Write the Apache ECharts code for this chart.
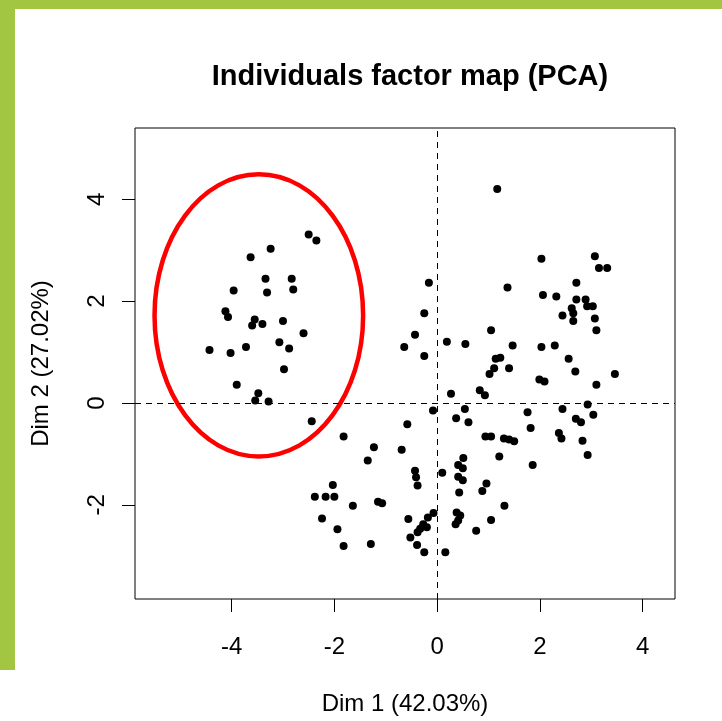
<!DOCTYPE html>
<html>
<head>
<meta charset="utf-8">
<script src="https://cdn.jsdelivr.net/npm/echarts@6.0.0/dist/echarts.min.js"></script>
<style>
  html, body { margin: 0; padding: 0; background: #fff; }
  #main { width: 722px; height: 721px; }
</style>
</head>
<body>
<div id="main"></div>
<script>
// individuals, [Dim 1, Dim 2]
const groupLeft = [
  [-2.50, 3.31], [-2.35, 3.19], [-3.24, 3.03], [-3.63, 2.86], [-3.34, 2.44], [-2.83, 2.44],
  [-3.96, 2.21], [-3.31, 2.17], [-2.80, 2.23], [-4.12, 1.80], [-4.07, 1.69], [-3.55, 1.64],
  [-3.60, 1.52], [-3.40, 1.55], [-3.00, 1.61], [-2.60, 1.37], [-3.07, 1.19], [-2.88, 1.07],
  [-4.43, 1.04], [-4.02, 0.98], [-3.72, 1.10], [-2.98, 0.66], [-3.90, 0.36], [-3.48, 0.19],
  [-3.54, 0.05], [-3.28, 0.03]
]
const groupBottom = [
  [-2.44, -0.36], [-1.82, -0.66], [-1.23, -0.87], [-1.35, -1.13], [-0.69, -0.92], [-0.58, -0.42],
  [-2.03, -1.61], [-2.38, -1.84], [-2.17, -1.84], [-2.00, -1.84], [-1.64, -2.02], [-1.15, -1.94],
  [-1.07, -1.97], [-2.24, -2.27], [-1.94, -2.48], [-1.82, -2.81], [-1.29, -2.77], [-0.43, -1.33],
  [-0.41, -1.46], [-0.38, -1.62],
  [-0.56, -2.28], [-0.07, -2.16], [-0.18, -2.25], [-0.27, -2.38], [-0.20, -2.44], [-0.33, -2.47],
  [-0.38, -2.54], [-0.52, -2.64], [-0.39, -2.79], [-0.25, -2.93], [0.16, -2.93],
  [0.38, -2.15], [0.45, -2.21], [0.41, -2.31], [0.36, -2.38], [0.76, -2.51], [1.05, -2.30],
  [1.31, -2.02], [0.43, -1.76], [0.96, -1.58], [0.88, -1.73], [0.41, -1.45], [0.50, -1.52],
  [0.41, -1.22], [0.50, -1.28], [0.51, -1.08], [0.10, -1.37], [1.21, -1.05], [1.86, -1.22],
  [0.94, -0.66], [1.05, -0.66], [1.30, -0.70], [1.40, -0.72], [1.50, -0.75]
]
const groupMiddle = [
  [-0.08, -0.15], [0.27, 0.18], [0.83, 0.25], [0.93, 0.15], [0.54, -0.12], [0.37, -0.30],
  [0.61, -0.38], [1.76, -0.18], [1.82, -0.49],
  [1.17, 4.20], [-0.16, 2.36], [1.37, 2.27], [-0.25, 1.76], [-0.43, 1.34], [-0.64, 1.10],
  [-0.25, 0.92], [0.19, 1.20], [0.55, 1.16], [1.05, 1.43], [1.47, 1.13], [1.14, 0.87],
  [1.23, 0.89], [1.11, 0.68], [1.02, 0.57], [1.40, 0.68]
]
const groupRight = [
  [2.03, 2.83], [3.07, 2.88], [3.15, 2.65], [3.31, 2.65], [2.71, 2.36], [2.06, 2.12],
  [2.32, 2.09], [2.71, 2.03], [2.89, 2.03], [2.92, 1.90], [3.03, 1.90], [2.62, 1.86],
  [2.65, 1.76], [2.65, 1.61], [2.44, 1.72], [3.07, 1.66], [3.10, 1.43], [2.03, 1.10],
  [2.29, 1.13], [2.56, 0.87], [2.69, 0.62], [3.46, 0.57], [1.99, 0.46], [2.09, 0.42],
  [3.10, 0.36], [2.93, -0.03], [2.44, -0.12], [3.04, -0.23], [2.70, -0.31], [2.80, -0.38],
  [2.37, -0.59], [2.42, -0.70], [2.83, -0.74], [2.93, -1.02]
]

const xTicks = [-4, -2, 0, 2, 4]
const yTicks = [-2, 0, 2, 4]
const xRange = [-5.88, 4.63]
const yRange = [-3.85, 5.40]

// red ellipse around the left group: centre and half axes in data units
const ellipseCenter = [-3.47, 1.72]
const ellipseRadius = [2.03, 2.77]

const points = groupLeft.concat(groupBottom, groupMiddle, groupRight)

var myChart = echarts.init(document.getElementById('main'))
var font = 'Liberation Sans, Arial, sans-serif'

var option = {
  backgroundColor: '#fff',
  animation: false,
  title: {
    text: 'Individuals factor map (PCA)',
    left: 405,
    top: 57,
    textAlign: 'center',
    textStyle: { fontFamily: font, fontSize: 29, fontWeight: 'bold', color: '#000' },
  },
  graphic: [
    { type: 'rect', left: 0, top: 0, shape: { width: 15, height: 670 }, style: { fill: '#a2c641' }, z: 100 },
    { type: 'rect', left: 0, top: 0, shape: { width: 722, height: 9 }, style: { fill: '#a2c641' }, z: 100 },
  ],
  grid: {
    left: 135,
    right: 47,
    top: 128,
    bottom: 115,
    show: true,
    borderColor: '#000',
    borderWidth: 1,
  },
  xAxis: {
    type: 'value',
    min: xRange[0],
    max: xRange[1],
    name: 'Dim 1 (42.03%)',
    nameLocation: 'middle',
    nameGap: 93,
    nameTextStyle: { fontFamily: font, fontSize: 24, color: '#000' },
    axisLine: { show: false, onZero: false },
    splitLine: { show: false },
    axisTick: { show: true, length: 13, customValues: xTicks, lineStyle: { color: '#000' } },
    axisLabel: { customValues: xTicks, margin: 36, fontFamily: font, fontSize: 24, color: '#000' },
  },
  yAxis: {
    type: 'value',
    min: yRange[0],
    max: yRange[1],
    name: 'Dim 2 (27.02%)',
    nameLocation: 'middle',
    nameGap: 82,
    nameTextStyle: { fontFamily: font, fontSize: 24, color: '#000' },
    axisLine: { show: false, onZero: false },
    splitLine: { show: false },
    axisTick: { show: true, length: 13, customValues: yTicks, lineStyle: { color: '#000' } },
    axisLabel: { customValues: yTicks, rotate: 90, margin: 26, fontFamily: font, fontSize: 24, color: '#000' },
  },
  series: [
    {
      type: 'scatter',
      data: points,
      symbol: 'circle',
      symbolSize: 8,
      itemStyle: { color: '#000', opacity: 1 },
      markLine: {
        silent: true,
        symbol: 'none',
        label: { show: false },
        lineStyle: { color: '#000', width: 1, type: [6, 5] },
        data: [{ xAxis: 0 }, { yAxis: 0 }],
      },
    },
    {
      type: 'custom',
      silent: true,
      data: [ellipseCenter],
      renderItem: function (params, api) {
        var c = api.coord([api.value(0), api.value(1)])
        var s = api.size([ellipseRadius[0], ellipseRadius[1]])
        return {
          type: 'ellipse',
          shape: { cx: c[0], cy: c[1], rx: s[0], ry: s[1] },
          style: { fill: 'none', stroke: '#ff0000', lineWidth: 4.5 },
        }
      },
    },
  ],
}

option && myChart.setOption(option)
</script>
</body>
</html>
